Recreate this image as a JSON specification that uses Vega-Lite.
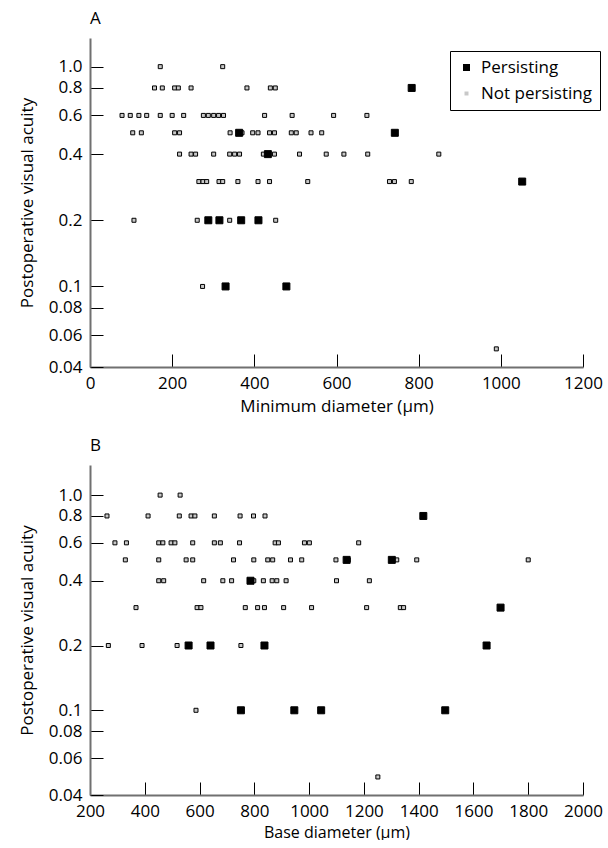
{
  "$schema": "https://vega.github.io/schema/vega-lite/v6.json",
  "autosize": {"type": "pad"},
  "padding": {"left": 18, "top": 10, "right": 5, "bottom": 0},
  "background": "white",
  "spacing": 98,
  "bounds": "flush",
  "config": {
    "font": "Open Sans",
    "view": {"stroke": null},
    "title": {"anchor": "start", "frame": "group", "fontSize": 17, "fontWeight": "normal", "offset": 10, "font": "Open Sans", "color": "black"},
    "axis": {
      "grid": false,
      "domainColor": "#707070",
      "domainWidth": 2,
      "tickColor": "black",
      "tickWidth": 1,
      "tickSize": -13,
      "labelFontSize": 17,
      "labelColor": "black",
      "labelPadding": 21,
      "titleFontSize": 17,
      "titleFontWeight": "normal",
      "titleColor": "black",
      "labelFlush": false
    },
    "legend": {
      "orient": "none",
      "legendX": 360,
      "legendY": 13,
      "strokeColor": "black",
      "fillColor": "white",
      "padding": 8,
      "labelFontSize": 17,
      "labelColor": "black",
      "symbolType": "square",
      "symbolStrokeColor": "black",
      "symbolStrokeWidth": 1,
      "rowPadding": 8,
      "labelOffset": 6
    }
  },
  "datasets": {
    "A": [
      {"x": 171, "y": 1.0, "s": "Not persisting"},
      {"x": 323, "y": 1.0, "s": "Not persisting"},
      {"x": 157, "y": 0.8, "s": "Not persisting"},
      {"x": 176, "y": 0.8, "s": "Not persisting"},
      {"x": 206, "y": 0.8, "s": "Not persisting"},
      {"x": 215, "y": 0.8, "s": "Not persisting"},
      {"x": 246, "y": 0.8, "s": "Not persisting"},
      {"x": 382, "y": 0.8, "s": "Not persisting"},
      {"x": 439, "y": 0.8, "s": "Not persisting"},
      {"x": 451, "y": 0.8, "s": "Not persisting"},
      {"x": 78, "y": 0.6, "s": "Not persisting"},
      {"x": 98, "y": 0.6, "s": "Not persisting"},
      {"x": 119, "y": 0.6, "s": "Not persisting"},
      {"x": 138, "y": 0.6, "s": "Not persisting"},
      {"x": 171, "y": 0.6, "s": "Not persisting"},
      {"x": 200, "y": 0.6, "s": "Not persisting"},
      {"x": 228, "y": 0.6, "s": "Not persisting"},
      {"x": 276, "y": 0.6, "s": "Not persisting"},
      {"x": 288, "y": 0.6, "s": "Not persisting"},
      {"x": 301, "y": 0.6, "s": "Not persisting"},
      {"x": 313, "y": 0.6, "s": "Not persisting"},
      {"x": 325, "y": 0.6, "s": "Not persisting"},
      {"x": 425, "y": 0.6, "s": "Not persisting"},
      {"x": 492, "y": 0.6, "s": "Not persisting"},
      {"x": 593, "y": 0.6, "s": "Not persisting"},
      {"x": 674, "y": 0.6, "s": "Not persisting"},
      {"x": 104, "y": 0.5, "s": "Not persisting"},
      {"x": 125, "y": 0.5, "s": "Not persisting"},
      {"x": 206, "y": 0.5, "s": "Not persisting"},
      {"x": 218, "y": 0.5, "s": "Not persisting"},
      {"x": 341, "y": 0.5, "s": "Not persisting"},
      {"x": 370, "y": 0.5, "s": "Not persisting"},
      {"x": 396, "y": 0.5, "s": "Not persisting"},
      {"x": 409, "y": 0.5, "s": "Not persisting"},
      {"x": 437, "y": 0.5, "s": "Not persisting"},
      {"x": 449, "y": 0.5, "s": "Not persisting"},
      {"x": 490, "y": 0.5, "s": "Not persisting"},
      {"x": 502, "y": 0.5, "s": "Not persisting"},
      {"x": 538, "y": 0.5, "s": "Not persisting"},
      {"x": 564, "y": 0.5, "s": "Not persisting"},
      {"x": 218, "y": 0.4, "s": "Not persisting"},
      {"x": 246, "y": 0.4, "s": "Not persisting"},
      {"x": 257, "y": 0.4, "s": "Not persisting"},
      {"x": 301, "y": 0.4, "s": "Not persisting"},
      {"x": 340, "y": 0.4, "s": "Not persisting"},
      {"x": 352, "y": 0.4, "s": "Not persisting"},
      {"x": 364, "y": 0.4, "s": "Not persisting"},
      {"x": 422, "y": 0.4, "s": "Not persisting"},
      {"x": 449, "y": 0.4, "s": "Not persisting"},
      {"x": 510, "y": 0.4, "s": "Not persisting"},
      {"x": 575, "y": 0.4, "s": "Not persisting"},
      {"x": 618, "y": 0.4, "s": "Not persisting"},
      {"x": 676, "y": 0.4, "s": "Not persisting"},
      {"x": 849, "y": 0.4, "s": "Not persisting"},
      {"x": 265, "y": 0.3, "s": "Not persisting"},
      {"x": 275, "y": 0.3, "s": "Not persisting"},
      {"x": 284, "y": 0.3, "s": "Not persisting"},
      {"x": 314, "y": 0.3, "s": "Not persisting"},
      {"x": 323, "y": 0.3, "s": "Not persisting"},
      {"x": 360, "y": 0.3, "s": "Not persisting"},
      {"x": 409, "y": 0.3, "s": "Not persisting"},
      {"x": 437, "y": 0.3, "s": "Not persisting"},
      {"x": 530, "y": 0.3, "s": "Not persisting"},
      {"x": 729, "y": 0.3, "s": "Not persisting"},
      {"x": 741, "y": 0.3, "s": "Not persisting"},
      {"x": 782, "y": 0.3, "s": "Not persisting"},
      {"x": 107, "y": 0.2, "s": "Not persisting"},
      {"x": 261, "y": 0.2, "s": "Not persisting"},
      {"x": 340, "y": 0.2, "s": "Not persisting"},
      {"x": 452, "y": 0.2, "s": "Not persisting"},
      {"x": 274, "y": 0.1, "s": "Not persisting"},
      {"x": 989, "y": 0.052, "s": "Not persisting"},
      {"x": 783, "y": 0.8, "s": "Persisting"},
      {"x": 363, "y": 0.5, "s": "Persisting"},
      {"x": 742, "y": 0.5, "s": "Persisting"},
      {"x": 433, "y": 0.4, "s": "Persisting"},
      {"x": 1052, "y": 0.3, "s": "Persisting"},
      {"x": 288, "y": 0.2, "s": "Persisting"},
      {"x": 315, "y": 0.2, "s": "Persisting"},
      {"x": 368, "y": 0.2, "s": "Persisting"},
      {"x": 410, "y": 0.2, "s": "Persisting"},
      {"x": 330, "y": 0.1, "s": "Persisting"},
      {"x": 478, "y": 0.1, "s": "Persisting"}
    ],
    "B": [
      {"x": 456, "y": 1.0, "s": "Not persisting"},
      {"x": 529, "y": 1.0, "s": "Not persisting"},
      {"x": 262, "y": 0.8, "s": "Not persisting"},
      {"x": 412, "y": 0.8, "s": "Not persisting"},
      {"x": 526, "y": 0.8, "s": "Not persisting"},
      {"x": 569, "y": 0.8, "s": "Not persisting"},
      {"x": 583, "y": 0.8, "s": "Not persisting"},
      {"x": 654, "y": 0.8, "s": "Not persisting"},
      {"x": 748, "y": 0.8, "s": "Not persisting"},
      {"x": 797, "y": 0.8, "s": "Not persisting"},
      {"x": 839, "y": 0.8, "s": "Not persisting"},
      {"x": 291, "y": 0.6, "s": "Not persisting"},
      {"x": 333, "y": 0.6, "s": "Not persisting"},
      {"x": 451, "y": 0.6, "s": "Not persisting"},
      {"x": 466, "y": 0.6, "s": "Not persisting"},
      {"x": 496, "y": 0.6, "s": "Not persisting"},
      {"x": 510, "y": 0.6, "s": "Not persisting"},
      {"x": 575, "y": 0.6, "s": "Not persisting"},
      {"x": 654, "y": 0.6, "s": "Not persisting"},
      {"x": 676, "y": 0.6, "s": "Not persisting"},
      {"x": 746, "y": 0.6, "s": "Not persisting"},
      {"x": 876, "y": 0.6, "s": "Not persisting"},
      {"x": 888, "y": 0.6, "s": "Not persisting"},
      {"x": 983, "y": 0.6, "s": "Not persisting"},
      {"x": 1001, "y": 0.6, "s": "Not persisting"},
      {"x": 1181, "y": 0.6, "s": "Not persisting"},
      {"x": 329, "y": 0.5, "s": "Not persisting"},
      {"x": 451, "y": 0.5, "s": "Not persisting"},
      {"x": 551, "y": 0.5, "s": "Not persisting"},
      {"x": 575, "y": 0.5, "s": "Not persisting"},
      {"x": 724, "y": 0.5, "s": "Not persisting"},
      {"x": 798, "y": 0.5, "s": "Not persisting"},
      {"x": 849, "y": 0.5, "s": "Not persisting"},
      {"x": 867, "y": 0.5, "s": "Not persisting"},
      {"x": 932, "y": 0.5, "s": "Not persisting"},
      {"x": 973, "y": 0.5, "s": "Not persisting"},
      {"x": 1098, "y": 0.5, "s": "Not persisting"},
      {"x": 1143, "y": 0.5, "s": "Not persisting"},
      {"x": 1320, "y": 0.5, "s": "Not persisting"},
      {"x": 1393, "y": 0.5, "s": "Not persisting"},
      {"x": 1800, "y": 0.5, "s": "Not persisting"},
      {"x": 451, "y": 0.4, "s": "Not persisting"},
      {"x": 469, "y": 0.4, "s": "Not persisting"},
      {"x": 615, "y": 0.4, "s": "Not persisting"},
      {"x": 685, "y": 0.4, "s": "Not persisting"},
      {"x": 717, "y": 0.4, "s": "Not persisting"},
      {"x": 798, "y": 0.4, "s": "Not persisting"},
      {"x": 833, "y": 0.4, "s": "Not persisting"},
      {"x": 865, "y": 0.4, "s": "Not persisting"},
      {"x": 882, "y": 0.4, "s": "Not persisting"},
      {"x": 916, "y": 0.4, "s": "Not persisting"},
      {"x": 1100, "y": 0.4, "s": "Not persisting"},
      {"x": 1220, "y": 0.4, "s": "Not persisting"},
      {"x": 368, "y": 0.3, "s": "Not persisting"},
      {"x": 591, "y": 0.3, "s": "Not persisting"},
      {"x": 605, "y": 0.3, "s": "Not persisting"},
      {"x": 767, "y": 0.3, "s": "Not persisting"},
      {"x": 812, "y": 0.3, "s": "Not persisting"},
      {"x": 837, "y": 0.3, "s": "Not persisting"},
      {"x": 907, "y": 0.3, "s": "Not persisting"},
      {"x": 1009, "y": 0.3, "s": "Not persisting"},
      {"x": 1210, "y": 0.3, "s": "Not persisting"},
      {"x": 1333, "y": 0.3, "s": "Not persisting"},
      {"x": 1345, "y": 0.3, "s": "Not persisting"},
      {"x": 267, "y": 0.2, "s": "Not persisting"},
      {"x": 390, "y": 0.2, "s": "Not persisting"},
      {"x": 518, "y": 0.2, "s": "Not persisting"},
      {"x": 751, "y": 0.2, "s": "Not persisting"},
      {"x": 587, "y": 0.1, "s": "Not persisting"},
      {"x": 1251, "y": 0.049, "s": "Not persisting"},
      {"x": 1417, "y": 0.8, "s": "Persisting"},
      {"x": 1137, "y": 0.5, "s": "Persisting"},
      {"x": 1302, "y": 0.5, "s": "Persisting"},
      {"x": 786, "y": 0.4, "s": "Persisting"},
      {"x": 1699, "y": 0.3, "s": "Persisting"},
      {"x": 560, "y": 0.2, "s": "Persisting"},
      {"x": 640, "y": 0.2, "s": "Persisting"},
      {"x": 837, "y": 0.2, "s": "Persisting"},
      {"x": 1648, "y": 0.2, "s": "Persisting"},
      {"x": 751, "y": 0.1, "s": "Persisting"},
      {"x": 946, "y": 0.1, "s": "Persisting"},
      {"x": 1044, "y": 0.1, "s": "Persisting"},
      {"x": 1497, "y": 0.1, "s": "Persisting"}
    ]
  },
  "vconcat": [
    {
      "title": "A",
      "width": 493,
      "height": 329,
      "data": {"name": "A"},
      "mark": {"type": "square", "stroke": "black", "strokeWidth": 1, "opacity": 1},
      "encoding": {
        "x": {
          "field": "x", "type": "quantitative",
          "scale": {"domain": [0, 1200], "nice": false, "zero": false},
          "axis": {"values": [0, 200, 400, 600, 800, 1000, 1200], "format": "d", "title": "Minimum diameter (μm)", "titlePadding": 7}
        },
        "y": {
          "field": "y", "type": "quantitative",
          "scale": {"type": "log", "domain": [0.043, 1.35], "nice": false},
          "axis": {
            "values": [0.043, 0.06, 0.08, 0.1, 0.2, 0.4, 0.6, 0.8, 1],
            "labelExpr": "datum.value >= 0.99 ? '1.0' : datum.value < 0.05 ? '0.04' : format(datum.value, '.2~f')",
            "title": "Postoperative visual acuity",
            "titlePadding": 12
          }
        },
        "fill": {
          "field": "s", "type": "nominal",
          "scale": {"domain": ["Persisting", "Not persisting"], "range": ["black", "#c8c8c8"]},
          "legend": {"title": null, "symbolStrokeColor": "black", "symbolStrokeWidth": 1,
            "encode": {"symbols": {"update": {"stroke": {"value": "black"}, "strokeWidth": {"value": 1}}}}}
        },
        "size": {
          "field": "s", "type": "nominal",
          "scale": {"domain": ["Persisting", "Not persisting"], "range": [49, 16]},
          "legend": {"title": null, "symbolStrokeColor": "black", "symbolStrokeWidth": 1,
            "encode": {"symbols": {"update": {"stroke": {"value": "black"}, "strokeWidth": {"value": 1}}}}}
        }
      }
    },
    {
      "title": "B",
      "width": 493,
      "height": 330,
      "data": {"name": "B"},
      "mark": {"type": "square", "stroke": "black", "strokeWidth": 1, "opacity": 1},
      "encoding": {
        "x": {
          "field": "x", "type": "quantitative",
          "scale": {"domain": [200, 2000], "nice": false, "zero": false},
          "axis": {"values": [200, 400, 600, 800, 1000, 1200, 1400, 1600, 1800, 2000], "format": "d", "title": "Base diameter (μm)", "titlePadding": 5, "titleFontSize": 16}
        },
        "y": {
          "field": "y", "type": "quantitative",
          "scale": {"type": "log", "domain": [0.0404, 1.38], "nice": false},
          "axis": {
            "values": [0.0404, 0.06, 0.08, 0.1, 0.2, 0.4, 0.6, 0.8, 1],
            "labelExpr": "datum.value >= 0.99 ? '1.0' : datum.value < 0.05 ? '0.04' : format(datum.value, '.2~f')",
            "title": "Postoperative visual acuity",
            "titlePadding": 12
          }
        },
        "fill": {
          "field": "s", "type": "nominal",
          "scale": {"domain": ["Persisting", "Not persisting"], "range": ["black", "#c8c8c8"]},
          "legend": {"title": null, "symbolStrokeColor": "black", "symbolStrokeWidth": 1,
            "encode": {"symbols": {"update": {"stroke": {"value": "black"}, "strokeWidth": {"value": 1}}}}}
        },
        "size": {
          "field": "s", "type": "nominal",
          "scale": {"domain": ["Persisting", "Not persisting"], "range": [49, 16]},
          "legend": {"title": null, "symbolStrokeColor": "black", "symbolStrokeWidth": 1,
            "encode": {"symbols": {"update": {"stroke": {"value": "black"}, "strokeWidth": {"value": 1}}}}}
        }
      }
    }
  ]
}
